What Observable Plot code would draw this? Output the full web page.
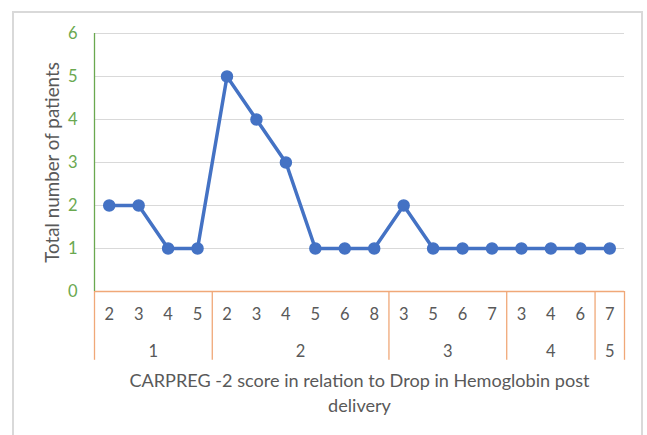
<!DOCTYPE html>
<html><head>
<meta charset="utf-8">
<script src="https://cdn.jsdelivr.net/npm/d3@7"></script>
<script src="https://cdn.jsdelivr.net/npm/@observablehq/plot@0.6"></script>
<style>
body{margin:0;background:#fff}
#wrap{position:relative;width:647px;height:435px;overflow:hidden}
#frame{position:absolute;left:12px;top:11px;width:631px;height:440px;border:2px solid #d9d9d9;box-sizing:border-box}
#chart{position:absolute;left:0;top:0}
</style>
</head><body>
<div id="wrap"><div id="frame"></div><div id="chart"></div></div>
<script>
const groupLabels = ["1", "2", "3", "4", "5"];
const groupSizes = [4, 6, 4, 3, 1];
const scores = ["2","3","4","5", "2","3","4","5","6","8", "3","5","6","7", "3","4","6", "7"];
const patients = [2, 2, 1, 1, 5, 4, 3, 1, 1, 1, 2, 1, 1, 1, 1, 1, 1, 1];
const yTicks = [0, 1, 2, 3, 4, 5, 6];
const yTitle = "Total number of patients";
const xTitle = "CARPREG -2 score in relation to Drop in Hemoglobin post\ndelivery";

const data = scores.map((s, i) => ({i, score: s, value: patients[i]}));
const bounds = [-0.5];
const groupMid = [];
let acc = 0;
groupSizes.forEach((n, k) => {
  groupMid.push({label: groupLabels[k], x: acc + (n - 1) / 2});
  acc += n;
  bounds.push(acc - 0.5);
});

const green = "#6aa84f", orange = "#f0a878", gray = "#595959", blue = "#4472c4";
const font = "Lato, 'Open Sans', sans-serif";

const chart = Plot.plot({
  width: 647, height: 435,
  marginLeft: 94, marginRight: 23, marginTop: 33, marginBottom: 144,
  style: {fontFamily: font, background: "transparent", overflow: "visible"},
  x: {type: "linear", domain: [-0.5, scores.length - 0.5], axis: null},
  y: {domain: [0, 6], axis: null},
  marks: [
    Plot.ruleY(yTicks.filter(d => d > 0), {stroke: "#d9d9d9", strokeWidth: 1}),
    Plot.ruleX(bounds, {y1: 0, y2: -1.6, stroke: orange, strokeWidth: 1.3}),
    Plot.ruleY([0], {stroke: orange, strokeWidth: 1.3}),
    Plot.ruleX([-0.5], {y1: 0, y2: 6, stroke: green, strokeWidth: 1.3}),
    Plot.text(yTicks, {x: -0.5, y: d => d, text: d => String(d), dx: -17, textAnchor: "end", fill: green, fontSize: 16.5}),
    Plot.line(data, {x: "i", y: "value", stroke: blue, strokeWidth: 3.5}),
    Plot.dot(data, {x: "i", y: "value", r: 5.5, fill: blue, stroke: blue}),
    Plot.text(data, {x: "i", y: 0, text: "score", dy: 23, fill: gray, fontSize: 16.5}),
    Plot.text(groupMid, {x: "x", y: 0, text: "label", dy: 60, fill: gray, fontSize: 16.5}),
    Plot.text([yTitle], {x: -0.5, y: 3, dx: -42, rotate: -90, fill: gray, fontSize: 18.8}),
    Plot.text([xTitle], {x: (scores.length - 1) / 2, y: 0, dy: 100, lineHeight: 1.35, fill: gray, fontSize: 18.1})
  ]
});
document.getElementById("chart").appendChild(chart);
</script>
</body></html>
